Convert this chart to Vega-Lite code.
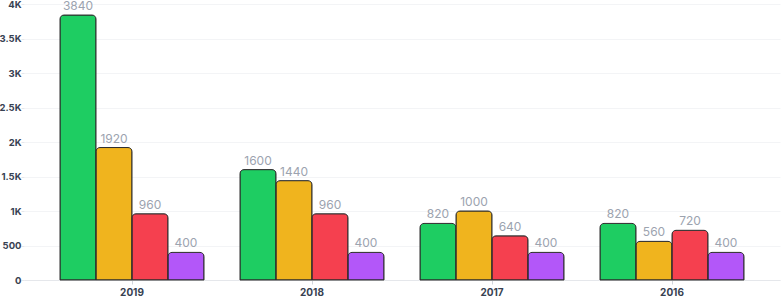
{
  "$schema": "https://vega.github.io/schema/vega-lite/v6.json",
  "autosize": "none",
  "width": 756,
  "height": 276,
  "padding": {"left": 24, "top": 4, "right": 4, "bottom": 20},
  "background": "white",
  "data": {
    "values": [
      {"year": "2019", "series": "A", "value": 3840},
      {"year": "2019", "series": "B", "value": 1920},
      {"year": "2019", "series": "C", "value": 960},
      {"year": "2019", "series": "D", "value": 400},
      {"year": "2018", "series": "A", "value": 1600},
      {"year": "2018", "series": "B", "value": 1440},
      {"year": "2018", "series": "C", "value": 960},
      {"year": "2018", "series": "D", "value": 400},
      {"year": "2017", "series": "A", "value": 820},
      {"year": "2017", "series": "B", "value": 1000},
      {"year": "2017", "series": "C", "value": 640},
      {"year": "2017", "series": "D", "value": 400},
      {"year": "2016", "series": "A", "value": 820},
      {"year": "2016", "series": "B", "value": 560},
      {"year": "2016", "series": "C", "value": 720},
      {"year": "2016", "series": "D", "value": 400}
    ]
  },
  "encoding": {
    "x": {
      "field": "year", "type": "nominal", "sort": null,
      "scale": {"paddingInner": 0.2, "paddingOuter": 0.2},
      "axis": {
        "title": null, "labelAngle": 0, "labelFont": "Inter", "labelFontSize": 10,
        "labelFontWeight": "bold", "labelColor": "#374151", "labelPadding": 3,
        "domainColor": "#e5e7eb", "tickColor": "#d1d5db", "tickSize": 4, "grid": false
      }
    },
    "xOffset": {"field": "series", "type": "nominal", "scale": {"paddingInner": 0, "paddingOuter": 0}},
    "y": {
      "field": "value", "type": "quantitative",
      "scale": {"domain": [0, 4000], "nice": false},
      "axis": {
        "title": null, "values": [0, 500, 1000, 1500, 2000, 2500, 3000, 3500, 4000],
        "labelExpr": "datum.value >= 1000 ? format(datum.value / 1000, '~g') + 'K' : datum.value",
        "labelFont": "Inter", "labelFontSize": 9.5, "labelFontWeight": "bold", "labelColor": "#374151",
        "labelPadding": 0, "domain": false, "tickColor": "#e5e7eb", "tickSize": 3,
        "gridColor": "#f3f4f6", "gridWidth": 1
      }
    }
  },
  "layer": [
    {
      "mark": {"type": "bar", "stroke": "#2d2d2d", "strokeWidth": 1, "cornerRadiusTopLeft": 4, "cornerRadiusTopRight": 4},
      "encoding": {
        "color": {
          "field": "series", "type": "nominal", "legend": null,
          "scale": {"domain": ["A", "B", "C", "D"], "range": ["#1ecd62", "#f0b41e", "#f5404f", "#b357f9"]}
        }
      }
    },
    {
      "mark": {"type": "text", "baseline": "bottom", "dy": -2, "font": "Inter", "fontSize": 12, "color": "#9ca3af"},
      "encoding": {"text": {"field": "value", "type": "quantitative"}}
    }
  ],
  "config": {"view": {"stroke": null}}
}
